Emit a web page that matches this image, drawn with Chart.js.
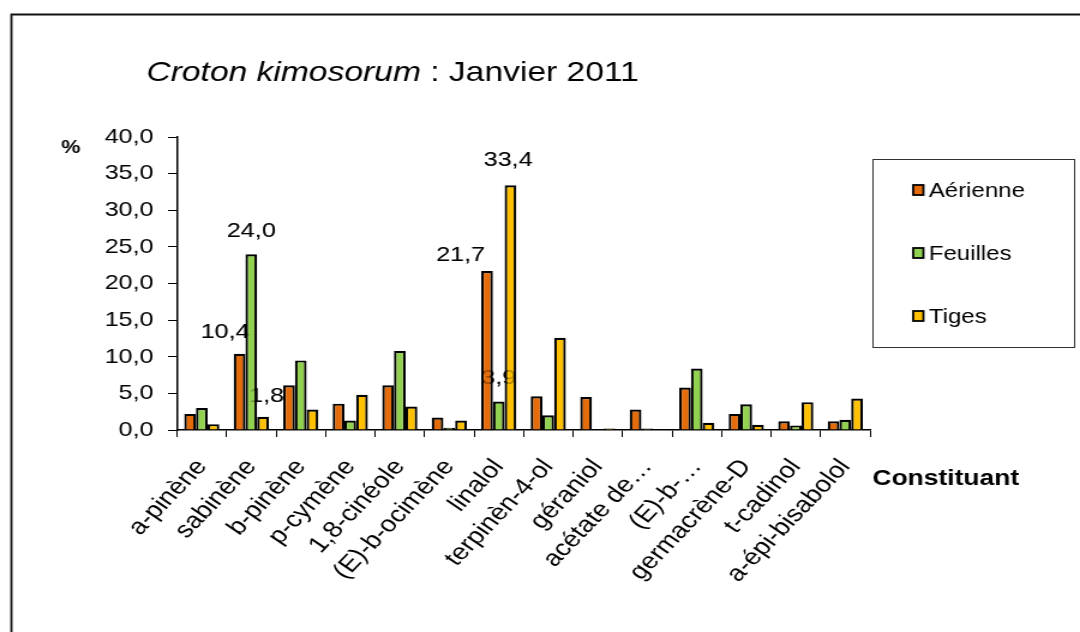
<!DOCTYPE html>
<html>
<head>
<meta charset="utf-8">
<script src="https://cdn.jsdelivr.net/npm/chart.js@4/dist/chart.umd.min.js"></script>
<style>
  html, body { margin: 0; padding: 0; background: #fff; overflow: hidden; }
  /* the reference picture is stretched sideways, so draw narrow and widen it */
  #wrap { width: 900px; height: 632px; transform: scaleX(1.2); transform-origin: 0 0; }
</style>
</head>
<body>
<div id="wrap"><canvas id="chartCanv" width="900" height="632"></canvas></div>
<script>
const constituants = ['a-pinène', 'sabinène', 'b-pinène', 'p-cymène', '1,8-cinéole', '(E)-b-ocimène',
    'linalol', 'terpinèn-4-ol', 'géraniol', 'acétate de…', '(E)-b-…', 'germacrène-D', 't-cadinol', 'a-épi-bisabolol'];
const aerienne = [2.2, 10.4, 6.1, 3.6, 6.1, 1.7, 21.7, 4.6, 4.5, 2.8, 5.8, 2.2, 1.2, 1.2];
const feuilles = [3.0, 24.0, 9.5, 1.3, 10.8, 0.3, 3.9, 2.0, 0.0, 0.2, 8.4, 3.5, 0.6, 1.4];
const tiges    = [0.8, 1.8, 2.8, 4.8, 3.2, 1.3, 33.4, 12.6, 0.2, 0.1, 1.0, 0.7, 3.8, 4.3];
const yTicks = [0, 5, 10, 15, 20, 25, 30, 35, 40];

// which bars carry a value label (dataset index, category index)
const labelled = [[0, 1], [1, 1], [2, 1], [0, 6], [1, 6], [2, 6]];
// hand nudges so labels sit where they do on the original
const labelNudge = {'0-1': [-12, 16], '1-1': [0, 17], '2-1': [3, 15], '0-6': [-22, 10], '1-6': [0, 17], '2-6': [-2, 19]};

const FONT = '"Liberation Sans", Arial, sans-serif';
const fmt = v => v.toFixed(1).replace('.', ',');

function drawLabels(chart, alpha) {
    const ctx = chart.ctx;
    ctx.save();
    ctx.globalAlpha = alpha;
    ctx.font = '21px ' + FONT;
    ctx.fillStyle = '#000';
    ctx.textAlign = 'center';
    ctx.textBaseline = 'alphabetic';
    labelled.forEach(([d, i]) => {
        const bar = chart.getDatasetMeta(d).data[i];
        const n = labelNudge[d + '-' + i];
        ctx.fillText(fmt(chart.data.datasets[d].data[i]), bar.x + n[0], bar.y - n[1]);
    });
    ctx.restore();
}

const decor = {
    id: 'decor',
    beforeDatasetsDraw(chart) {
        drawLabels(chart, 1);
    },
    afterDatasetsDraw(chart) {
        drawLabels(chart, 0.3);
    },
    afterDraw(chart) {
        const ctx = chart.ctx;
        ctx.save();
        // frame of the picture
        ctx.strokeStyle = '#111';
        ctx.lineWidth = 1.8;
        ctx.beginPath();
        ctx.moveTo(9.5, 640);
        ctx.lineTo(9.5, 14.5);
        ctx.lineTo(900, 14.5);
        ctx.stroke();

        // title, species name in italics
        ctx.fillStyle = '#000';
        ctx.textBaseline = 'alphabetic';
        ctx.textAlign = 'left';
        ctx.font = 'italic 28px ' + FONT;
        const part1 = 'Croton kimosorum';
        ctx.fillText(part1, 122, 81);
        const w = ctx.measureText(part1).width;
        ctx.font = '28px ' + FONT;
        ctx.fillText(' : Janvier 2011', 122 + w, 81);

        // axis titles
        ctx.font = 'bold 18px ' + FONT;
        ctx.fillText('%', 51, 153);
        ctx.font = 'bold 22px ' + FONT;
        ctx.fillText('Constituant', 727, 485);

        // legend
        ctx.strokeStyle = '#333';
        ctx.lineWidth = 1;
        ctx.strokeRect(727.5, 159.5, 168, 188);
        ctx.font = '20px ' + FONT;
        ctx.textBaseline = 'middle';
        const ys = [190, 253, 316];
        chart.data.datasets.forEach((ds, k) => {
            ctx.fillStyle = ds.backgroundColor;
            ctx.fillRect(761, ys[k] - 5, 8.5, 10);
            ctx.strokeStyle = '#000';
            ctx.lineWidth = 1.8;
            ctx.strokeRect(761, ys[k] - 5, 8.5, 10);
            ctx.fillStyle = '#000';
            ctx.fillText(ds.label, 774, ys[k] + 1);
        });
        ctx.restore();
    }
};

const chartCanv = document.getElementById('chartCanv');
const chart = new Chart(chartCanv, {
    type: 'bar',
    data: {
        labels: constituants,
        datasets: [{
            label: 'Aérienne',
            backgroundColor: '#E46C0A',
            borderColor: '#000',
            borderWidth: 2.2,
            data: aerienne
        },
        {
            label: 'Feuilles',
            backgroundColor: '#92D050',
            borderColor: '#000',
            borderWidth: 2.2,
            data: feuilles
        },
        {
            label: 'Tiges',
            backgroundColor: '#FFC000',
            borderColor: '#000',
            borderWidth: 2.2,
            data: tiges
        }]
    },
    options: {
        responsive: false,
        animation: false,
        devicePixelRatio: 1,
        layout: { padding: { top: 137, right: 175, left: 0, bottom: 0 } },
        datasets: { bar: { categoryPercentage: 0.71, barPercentage: 1.0 } },
        plugins: {
            legend: { display: false },
            title: { display: false },
            tooltip: { enabled: false }
        },
        scales: {
            x: {
                grid: { drawOnChartArea: false, color: '#000', tickLength: 7 },
                border: { color: '#000', width: 1.5 },
                ticks: {
                    color: '#000',
                    font: { family: FONT, size: 23 },
                    minRotation: 51,
                    maxRotation: 51,
                    autoSkip: false,
                    padding: 17
                },
                afterFit: scale => { scale.height = 202; }
            },
            y: {
                min: 0,
                max: 40,
                afterBuildTicks: scale => { scale.ticks = yTicks.map(v => ({value: v})); },
                grid: { drawOnChartArea: false, color: '#000', tickLength: 7.5 },
                border: { color: '#000', width: 1.5 },
                ticks: {
                    color: '#000',
                    font: { family: FONT, size: 21 },
                    padding: 12,
                    callback: v => fmt(v)
                },
                afterFit: scale => { scale.width = 147.5; }
            }
        }
    },
    plugins: [decor]
});
</script>
</body>
</html>
